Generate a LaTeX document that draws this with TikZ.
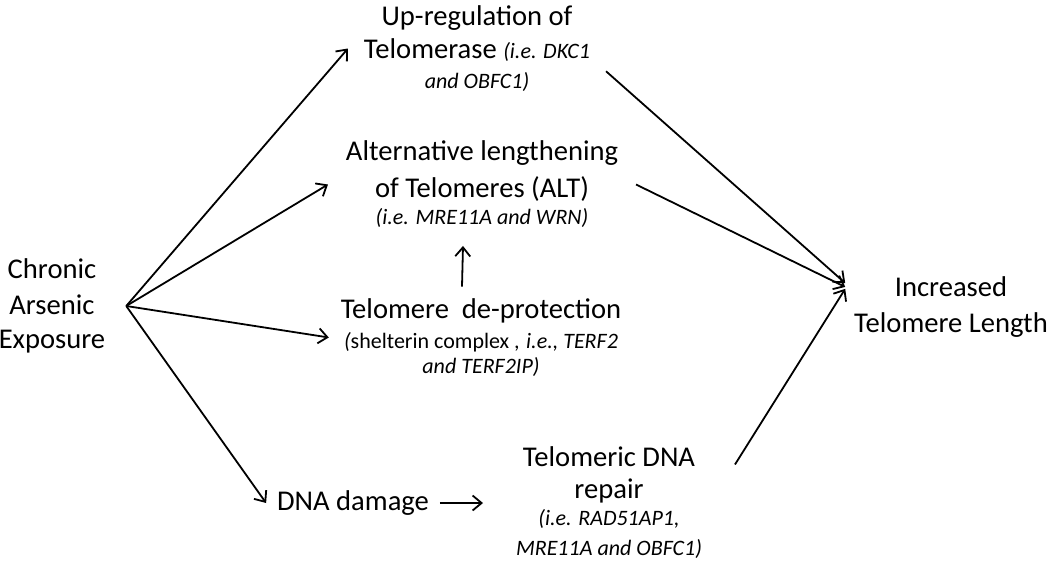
\documentclass[tikz,border=0pt]{standalone}
\usepackage{fontspec}
\setmainfont{Carlito}
\usetikzlibrary{arrows.meta, positioning}
\tikzstyle{txt} = [align=center, inner sep=0pt, font=\fontsize{28.6}{35}\selectfont]
\tikzstyle{arrow} = [line width=1.8pt,->,>={Straight Barb[length=9pt,width=15pt]}]
\newcommand{\eg}[1]{{\fontsize{22}{27}\selectfont\itshape #1}}
\newcommand{\sm}[1]{{\fontsize{22}{27}\selectfont #1}}

\begin{document}
\begin{tikzpicture}[x=1pt, y=-1pt, node distance=136pt]
     \useasboundingbox (0,0) rectangle (1050,562);
     % Nodes
     \node [txt, outer sep=21pt] (chronic) at (52,306) {Chronic\\[1pt] Arsenic\\[-1pt] Exposure};
     \node [txt, outer sep=18pt] (alt) at (482,184.5) {Alternative lengthening\\[2pt] of Telomeres (ALT)\\[-8pt] \eg{(i.e. MRE11A and WRN)}};
     \node [txt, outer sep=16pt, above of=alt, xshift=-5pt] (upreg) {Up-regulation of\\[-2pt] Telomerase \eg{(i.e. DKC1}\\[-5pt] \eg{and OBFC1)}};
     \node [txt, outer sep=12pt, below of=alt, node distance=153pt, xshift=-1pt] (deprot) {Telomere\ \ de-protection\\[-5pt] \eg{(}\sm{shelterin complex ,} \eg{i.e., TERF2}\\[-10pt] \eg{and TERF2IP)}};
     \node [txt, outer sep=11pt] (dmg) at (353,503) {DNA damage};
     \node [txt, outer sep=33pt, right of=dmg, node distance=256pt] (repair) {Telomeric DNA\\[-3pt] repair\\[-8pt] \eg{(i.e. RAD51AP1,}\\[-5pt] \eg{MRE11A and OBFC1)}};
     \node [txt, outer sep=9pt] (incr) at (951,307.5) {Increased\\[1pt] Telomere Length};

     % Arrows
     \draw [arrow] (chronic.east) -- (upreg.west);
     \draw [arrow] (chronic.east) -- (alt.west);
     \draw [arrow] (chronic.east) -- (deprot.west);
     \draw [arrow] (chronic.east) -- (dmg.west);
     \draw [arrow] ([xshift=-19pt]deprot.north) -- ([xshift=-19pt]alt.south);
     \draw [arrow] (dmg.east) -- (repair.west);
     \draw [arrow] (upreg.-10) -- (incr.167);
     \draw [arrow] (alt.east) -- (incr.169);
     \draw [arrow] (repair.17) -- (incr.170);
\end{tikzpicture}
\end{document}
